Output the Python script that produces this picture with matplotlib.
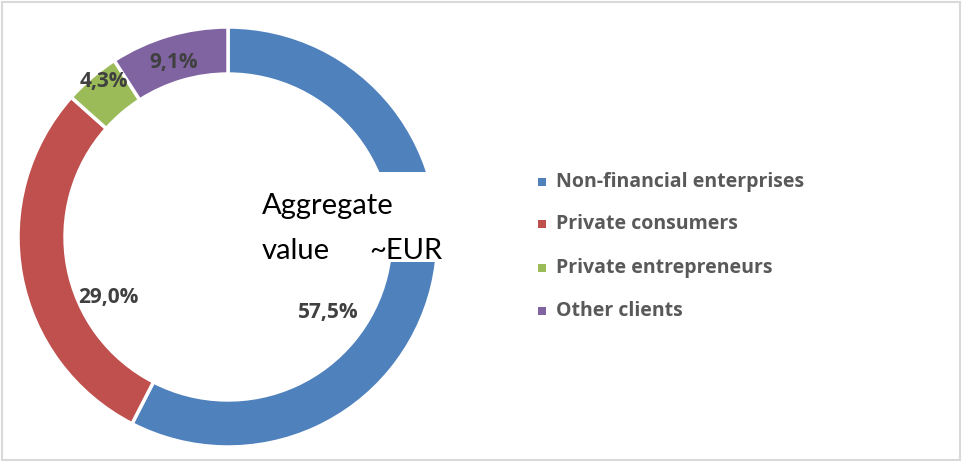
import matplotlib
matplotlib.use("Agg")
import matplotlib.pyplot as plt
from matplotlib.patches import Rectangle

categories = ["Non-financial enterprises", "Private consumers", "Private entrepreneurs", "Other clients"]
values = [57.5, 29.0, 4.3, 9.1]
labels = ["57,5%", "29,0%", "4,3%", "9,1%"]
colors = ["#4F81BD", "#C0504D", "#9BBB59", "#8064A2"]
center_lines = ["Aggregate", "value", "~EUR"]

W, H = 963, 461
fig = plt.figure(figsize=(W / 100, H / 100), dpi=100)
fig.patch.set_facecolor("white")

def fx(px):
    return px / W

def fy(py):
    return 1 - py / H

BOLD = ["Open Sans", "DejaVu Sans"]

# outer border
fig.add_artist(Rectangle((fx(1.5), fy(459.5)), (960 - 1.5) / W, (459.5 - 2.5) / H,
                         transform=fig.transFigure, fill=False, edgecolor="#D9D9D9", linewidth=1.5))

# donut
cx, cy, R = 228, 237, 210
ax = fig.add_axes([fx(cx - R), fy(cy + R), 2 * R / W, 2 * R / H])
wedges, _ = ax.pie(values, colors=colors, startangle=90, counterclock=False, radius=1,
                   wedgeprops=dict(width=0.224, edgecolor="white", linewidth=2.5))
ax.set_xlim(-1, 1)
ax.set_ylim(-1, 1)
ax.set_aspect("auto")
ax.axis("off")

label_pos = [(0.475, -0.36), (-0.57, -0.29), (-0.59, 0.74), (-0.26, 0.83)]
for lab, (x, y) in zip(labels, label_pos):
    ax.text(x, y, lab, ha="center", va="center", fontsize=15, fontweight="bold",
            color="#404040", family=BOLD)

# white text box overlapping the ring
fig.add_artist(Rectangle((fx(250), fy(262)), 197 / W, 90 / H, transform=fig.transFigure,
                         facecolor="white", edgecolor="none", zorder=5))
fig.text(fx(262), fy(214), center_lines[0], ha="left", va="baseline", fontsize=21,
         color="black", family=["Lato", "DejaVu Sans"], zorder=6)
fig.text(fx(262), fy(259), center_lines[1], ha="left", va="baseline", fontsize=21,
         color="black", family=["Lato", "DejaVu Sans"], zorder=6)
fig.text(fx(442), fy(259), center_lines[2], ha="right", va="baseline", fontsize=21,
         color="black", family=["Lato", "DejaVu Sans"], zorder=6)

# legend
ys = [182, 224, 268, 311]
for cat, col, y in zip(categories, colors, ys):
    fig.add_artist(Rectangle((fx(538), fy(y + 4)), 8 / W, 8 / H, transform=fig.transFigure,
                             facecolor=col, edgecolor="none"))
    fig.text(fx(556), fy(y), cat, ha="left", va="center", fontsize=14, fontweight="bold",
             color="#595959", family=BOLD)

fig.savefig("out.png", dpi=100)
